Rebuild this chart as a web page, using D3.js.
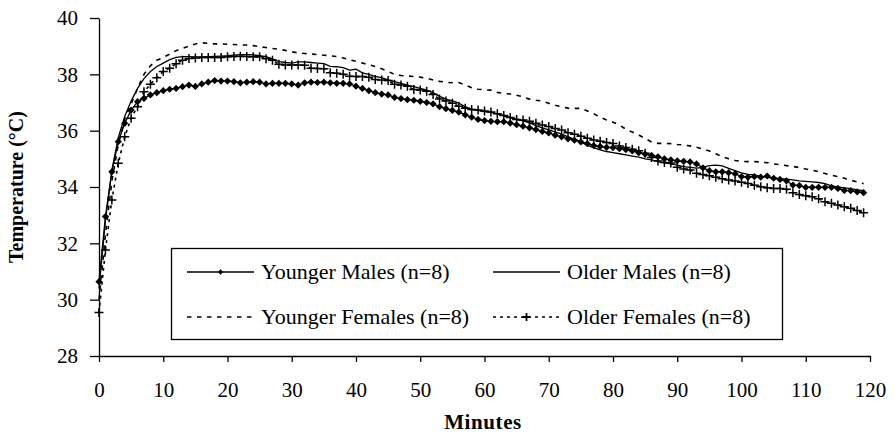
<!DOCTYPE html>
<html>
<head>
<meta charset="utf-8">
<script src="https://cdn.jsdelivr.net/npm/d3@7"></script>
<style>
  body { margin: 0; background: #fff; }
  svg text { font-family: "Liberation Serif", Tinos, "Times New Roman", "DejaVu Serif", serif; fill: #000; }
</style>
</head>
<body>
<svg width="895" height="435"></svg>
<script>
// minutes 0..119, one reading per minute
var minutes = d3.range(0, 120);

var youngerMales = [
  30.64, 32.95, 34.54, 35.61, 36.26, 36.73, 37.03, 37.15, 37.27, 37.35,
  37.42, 37.47, 37.50, 37.56, 37.62, 37.57, 37.66, 37.72, 37.78, 37.76,
  37.76, 37.74, 37.70, 37.72, 37.74, 37.72, 37.66, 37.68, 37.68, 37.68,
  37.66, 37.62, 37.70, 37.72, 37.71, 37.72, 37.70, 37.68, 37.68, 37.66,
  37.58, 37.50, 37.42, 37.35, 37.30, 37.27, 37.18, 37.14, 37.10, 37.08,
  37.04, 37.00, 36.95, 36.85, 36.78, 36.72, 36.66, 36.56, 36.48, 36.40,
  36.36, 36.33, 36.32, 36.32, 36.27, 36.21, 36.16, 36.10, 36.04, 35.97,
  35.92, 35.84, 35.78, 35.71, 35.66, 35.60, 35.54, 35.47, 35.44, 35.41,
  35.40, 35.36, 35.33, 35.28, 35.22, 35.17, 35.12, 35.07, 35.00, 34.96,
  34.93, 34.91, 34.89, 34.82, 34.68, 34.58, 34.54, 34.54, 34.51, 34.47,
  34.37, 34.35, 34.37, 34.35, 34.39, 34.31, 34.27, 34.22, 34.07, 34.05,
  33.99, 33.99, 33.99, 33.99, 33.99, 33.95, 33.88, 33.87, 33.83, 33.80
];

var olderMales = [
  30.40, 32.80, 34.60, 35.75, 36.50, 37.05, 37.50, 37.85, 38.10, 38.28,
  38.40, 38.52, 38.60, 38.63, 38.63, 38.62, 38.62, 38.63, 38.64, 38.65,
  38.66, 38.68, 38.70, 38.70, 38.69, 38.66, 38.63, 38.55, 38.45, 38.42,
  38.40, 38.44, 38.44, 38.42, 38.40, 38.38, 38.28, 38.27, 38.24, 38.15,
  38.18, 38.05, 38.00, 37.93, 37.88, 37.80, 37.74, 37.68, 37.62, 37.56,
  37.50, 37.44, 37.35, 37.22, 37.12, 37.06, 36.98, 36.85, 36.76, 36.72,
  36.68, 36.66, 36.60, 36.53, 36.47, 36.40, 36.35, 36.28, 36.18, 36.10,
  36.03, 35.96, 35.88, 35.78, 35.70, 35.60, 35.48, 35.40, 35.32, 35.26,
  35.22, 35.18, 35.14, 35.10, 35.06, 35.00, 34.96, 34.90, 34.86, 34.82,
  34.78, 34.72, 34.70, 34.67, 34.70, 34.76, 34.78, 34.75, 34.66, 34.58,
  34.50, 34.45, 34.43, 34.38, 34.34, 34.32, 34.30, 34.28, 34.25, 34.22,
  34.20, 34.18, 34.16, 34.12, 34.04, 34.00, 33.97, 33.94, 33.90, 33.87
];

var youngerFemales = [
  30.00, 32.30, 34.20, 35.50, 36.40, 36.95, 37.50, 38.00, 38.30, 38.50,
  38.60, 38.72, 38.84, 38.92, 39.00, 39.08, 39.12, 39.10, 39.08, 39.08,
  39.07, 39.06, 39.04, 39.04, 39.02, 38.98, 38.95, 38.92, 38.89, 38.85,
  38.80, 38.76, 38.74, 38.72, 38.70, 38.68, 38.66, 38.63, 38.58, 38.52,
  38.46, 38.40, 38.34, 38.28, 38.20, 38.10, 38.00, 37.96, 37.94, 37.92,
  37.90, 37.86, 37.80, 37.75, 37.72, 37.70, 37.71, 37.62, 37.52, 37.47,
  37.45, 37.44, 37.36, 37.32, 37.30, 37.26, 37.20, 37.12, 37.08, 37.05,
  36.97, 36.90, 36.85, 36.80, 36.79, 36.79, 36.70, 36.60, 36.48, 36.38,
  36.30, 36.20, 36.05, 35.95, 35.85, 35.72, 35.60, 35.55, 35.55, 35.54,
  35.51, 35.49, 35.46, 35.41, 35.35, 35.28, 35.18, 35.08, 35.00, 34.94,
  34.91, 34.90, 34.90, 34.89, 34.86, 34.82, 34.79, 34.76, 34.73, 34.69,
  34.64, 34.60, 34.54, 34.48, 34.42, 34.37, 34.31, 34.24, 34.18, 34.12
];

var olderFemales = [
  29.54, 31.76, 33.54, 34.84, 35.78, 36.44, 36.85, 37.38, 37.65, 37.88,
  38.10, 38.22, 38.38, 38.50, 38.56, 38.58, 38.60, 38.60, 38.60, 38.60,
  38.62, 38.63, 38.64, 38.63, 38.62, 38.62, 38.55, 38.50, 38.36, 38.33,
  38.33, 38.33, 38.32, 38.22, 38.21, 38.20, 38.06, 38.04, 38.00, 37.93,
  37.92, 37.92, 37.90, 37.82, 37.80, 37.78, 37.65, 37.62, 37.58, 37.46,
  37.44, 37.40, 37.28, 37.12, 37.05, 36.97, 36.87, 36.80, 36.75, 36.73,
  36.70, 36.66, 36.60, 36.54, 36.47, 36.40, 36.38, 36.33, 36.26, 36.20,
  36.15, 36.08, 36.02, 35.93, 35.87, 35.80, 35.73, 35.67, 35.62, 35.58,
  35.54, 35.46, 35.40, 35.34, 35.29, 35.20, 35.05, 34.92, 34.87, 34.85,
  34.70, 34.64, 34.60, 34.49, 34.44, 34.40, 34.35, 34.29, 34.25, 34.21,
  34.17, 34.12, 34.06, 34.01, 33.97, 33.95, 33.95, 33.92, 33.80, 33.73,
  33.69, 33.65, 33.58, 33.48, 33.42, 33.36, 33.30, 33.25, 33.17, 33.09
];

var xTicks = [0, 10, 20, 30, 40, 50, 60, 70, 80, 90, 100, 110, 120];
var yTicks = [28, 30, 32, 34, 36, 38, 40];

var serifFont = "'Liberation Serif', Tinos, 'Times New Roman', 'DejaVu Serif', serif";

var svg = d3.select("svg");

var x = d3.scaleLinear().domain([0, 120]).range([99, 870]);
var y = d3.scaleLinear().domain([28, 40]).range([356, 18]);

// axes
var gx = svg.append("g")
  .attr("transform", "translate(0," + y(28) + ")")
  .call(d3.axisBottom(x).tickValues(xTicks).tickSize(6).tickSizeOuter(0).tickPadding(20));
var gy = svg.append("g")
  .attr("transform", "translate(" + x(0) + ",0)")
  .call(d3.axisLeft(y).tickValues(yTicks).tickSize(9).tickSizeOuter(0).tickPadding(12));

[gx, gy].forEach(function(g) {
  g.attr("font-family", null).attr("font-size", null);
  g.selectAll("path, line").attr("stroke", "#000").attr("stroke-width", 1.3);
  g.selectAll("text")
    .style("font-family", serifFont)
    .style("font-size", "21px")
    .attr("fill", "#000");
});

svg.append("text")
  .attr("transform", "translate(23," + (y(34)) + ") rotate(-90)")
  .attr("text-anchor", "middle")
  .style("font-size", "20px")
  .style("font-weight", "bold")
  .text("Temperature (°C)");

svg.append("text")
  .attr("x", 483)
  .attr("y", 429)
  .attr("text-anchor", "middle")
  .style("font-size", "21px")
  .style("font-weight", "bold")
  .style("letter-spacing", "0.6px")
  .text("Minutes");

var line = d3.line()
  .x(function(d, i) { return x(minutes[i]); })
  .y(function(d) { return y(d); });

var series = [
  { name: "Younger Males (n=8)", values: youngerMales, dash: null, marker: "diamond" },
  { name: "Older Males (n=8)", values: olderMales, dash: null, marker: null },
  { name: "Younger Females (n=8)", values: youngerFemales, dash: "4.5,5.5", marker: null },
  { name: "Older Females (n=8)", values: olderFemales, dash: "3,4", marker: "plus" }
];

var diamond = d3.symbol(d3.symbolSquare, 26);
function plusPath(r) {
  return "M" + (-r) + ",0H" + r + "M0," + (-r) + "V" + r;
}

var plot = svg.append("g");

series.forEach(function(s) {
  plot.append("path")
    .datum(s.values)
    .attr("fill", "none")
    .attr("stroke", "#000")
    .attr("stroke-width", s.dash ? 1.6 : 1.3)
    .attr("stroke-dasharray", s.dash)
    .attr("d", line);

  if (s.marker === "diamond") {
    plot.selectAll(null)
      .data(s.values)
      .join("path")
      .attr("transform", function(d, i) {
        return "translate(" + x(minutes[i]) + "," + y(d) + ") rotate(45)";
      })
      .attr("d", diamond)
      .attr("fill", "#000");
  } else if (s.marker === "plus") {
    plot.selectAll(null)
      .data(s.values)
      .join("path")
      .attr("transform", function(d, i) {
        return "translate(" + x(minutes[i]) + "," + y(d) + ")";
      })
      .attr("d", plusPath(4.5))
      .attr("fill", "none")
      .attr("stroke", "#000")
      .attr("stroke-width", 1.5);
  }
});

// legend
var legend = svg.append("g");
legend.append("rect")
  .attr("x", 171.5).attr("y", 248.5)
  .attr("width", 611).attr("height", 91)
  .attr("fill", "#fff")
  .attr("stroke", "#000")
  .attr("stroke-width", 1.3);

var legendPos = [
  { lx: 187, ty: 272 },
  { lx: 493, ty: 272 },
  { lx: 187, ty: 317 },
  { lx: 493, ty: 317 }
];

series.forEach(function(s, i) {
  var p = legendPos[i];
  var g = legend.append("g").attr("transform", "translate(" + p.lx + "," + p.ty + ")");
  g.append("line")
    .attr("x1", 0).attr("x2", 67)
    .attr("y1", 0).attr("y2", 0)
    .attr("stroke", "#000")
    .attr("stroke-width", s.dash ? 1.6 : 1.3)
    .attr("stroke-dasharray", s.dash);
  if (s.marker === "diamond") {
    g.append("path")
      .attr("transform", "translate(33.5,0) rotate(45)")
      .attr("d", d3.symbol(d3.symbolSquare, 14)())
      .attr("fill", "#000");
  } else if (s.marker === "plus") {
    g.append("path")
      .attr("transform", "translate(33.5,0)")
      .attr("d", plusPath(4))
      .attr("stroke", "#000")
      .attr("stroke-width", 1.8);
  }
  g.append("text")
    .attr("x", 74)
    .attr("y", 7)
    .style("font-size", "22px")
    .text(s.name);
});
</script>
</body>
</html>
